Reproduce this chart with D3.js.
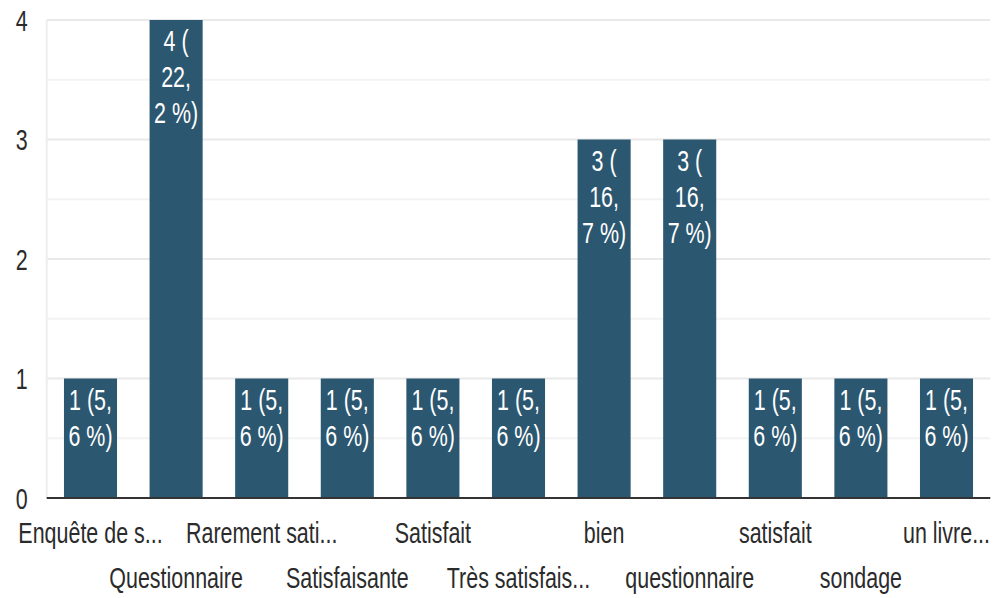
<!DOCTYPE html>
<html>
<head>
<meta charset="utf-8">
<script src="https://cdn.jsdelivr.net/npm/d3@7/dist/d3.min.js"></script>
<style>
  html, body { margin: 0; padding: 0; background: #ffffff; }
  svg { display: block; }
  text { font-family: "Liberation Sans", Arial, sans-serif; }
</style>
</head>
<body>
<svg id="chart" width="993" height="598"></svg>
<script>
// Responses per answer
const categories = [
  "Enquête de s...", "Questionnaire", "Rarement sati...", "Satisfaisante",
  "Satisfait", "Très satisfais...", "bien", "questionnaire",
  "satisfait", "sondage", "un livre..."
];
const counts = [1, 4, 1, 1, 1, 1, 3, 3, 1, 1, 1];
const yTicks = [0, 1, 2, 3, 4];
const yMinorTicks = [0.5, 1.5, 2.5, 3.5];

const W = 993, H = 598;
const plot = { left: 47.7, right: 989.3, top: 20, bottom: 498 };
const SX = 0.74;          // horizontal squeeze applied to all text
const FONT = 29;
const barColor = "#2c5770";
const textColor = "#2b2b2b";

const svg = d3.select("#chart");
svg.append("rect").attr("width", W).attr("height", H).attr("fill", "#fff");

const x = d3.scaleBand()
  .domain(categories)
  .range([plot.left, plot.right])
  .paddingInner(0.38)
  .paddingOuter(0.19);

const y = d3.scaleLinear().domain([0, 4]).range([plot.bottom, plot.top]);

// Gridlines
const grid = svg.append("g");
grid.selectAll("line.minor").data(yMinorTicks).join("line")
  .attr("class", "minor")
  .attr("x1", plot.left - 1).attr("x2", plot.right + 1)
  .attr("y1", d => y(d)).attr("y2", d => y(d))
  .attr("stroke", "#f3f3f3").attr("stroke-width", 2);
grid.selectAll("line.major").data(yTicks.filter(d => d > 0)).join("line")
  .attr("class", "major")
  .attr("x1", plot.left - 1).attr("x2", plot.right + 1)
  .attr("y1", d => y(d)).attr("y2", d => y(d))
  .attr("stroke", "#e9e9e9").attr("stroke-width", 2);
grid.append("line")
  .attr("x1", plot.left - 1).attr("x2", plot.left - 1)
  .attr("y1", plot.top).attr("y2", plot.bottom)
  .attr("stroke", "#eeeeee").attr("stroke-width", 2);

// Y axis labels
const yAxis = d3.axisLeft(y).tickValues(yTicks).tickSize(0).tickPadding(0).tickFormat(d3.format("d"));
const yg = svg.append("g").attr("transform", `translate(${plot.left - 20},0)`).call(yAxis);
yg.select(".domain").remove();
yg.selectAll(".tick text")
  .attr("fill", textColor)
  .attr("font-size", FONT)
  .attr("font-family", "Liberation Sans, Arial, sans-serif")
  .attr("text-anchor", "end")
  .attr("dy", "0.36em")
  .attr("transform", `scale(${SX},1)`);

// Bars
svg.append("g").selectAll("rect").data(counts).join("rect")
  .attr("x", (d, i) => x(categories[i]))
  .attr("width", x.bandwidth())
  .attr("y", d => y(d))
  .attr("height", d => y(0) - y(d))
  .attr("fill", barColor);

// Baseline
svg.append("line")
  .attr("x1", plot.left - 1).attr("x2", plot.right + 1)
  .attr("y1", y(0)).attr("y2", y(0))
  .attr("stroke", "#333").attr("stroke-width", 2);

// Value labels: "n (pp,p %)" wrapped to the bar width
const total = d3.sum(counts);
const pctFmt = v => (Math.round(v * 1000) / 10).toFixed(1).replace(".", ",");
const measurer = svg.append("text").attr("font-size", FONT).attr("visibility", "hidden");
const measure = s => { measurer.text(s); return measurer.node().getComputedTextLength() * SX; };

function wrap(label, maxW) {
  // break after "(" , "," ; the space before % is non-breaking
  const tokens = label.match(/[^(,]*[(,]|[^(,]+$/g).map(t => t);
  const lines = [];
  let cur = "";
  tokens.forEach(t => {
    const cand = cur + t;
    if (cur && measure(cand.trim()) > maxW) { lines.push(cur.trim()); cur = t; }
    else cur = cand;
  });
  if (cur) lines.push(cur.trim());
  return lines;
}

const labels = svg.append("g");
counts.forEach((v, i) => {
  const txt = `${v} (${pctFmt(v / total)}\u00a0%)`;
  const lines = wrap(txt, x.bandwidth() - 3);
  const cx = x(categories[i]) + x.bandwidth() / 2;
  lines.forEach((ln, k) => {
    labels.append("text")
      .attr("transform", `translate(${cx},${y(v) + 31 + k * 36}) scale(${SX},1)`)
      .attr("text-anchor", "middle")
      .attr("font-size", FONT)
      .attr("fill", "#ffffff")
      .text(ln);
  });
});
measurer.remove();

// Category labels, staggered on two rows
svg.append("g").selectAll("text").data(categories).join("text")
  .attr("transform", (d, i) => `translate(${x(d) + x.bandwidth() / 2},${i % 2 === 0 ? 543 : 588}) scale(${SX},1)`)
  .attr("text-anchor", "middle")
  .attr("font-size", FONT)
  .attr("fill", textColor)
  .text(d => d);
</script>
</body>
</html>
